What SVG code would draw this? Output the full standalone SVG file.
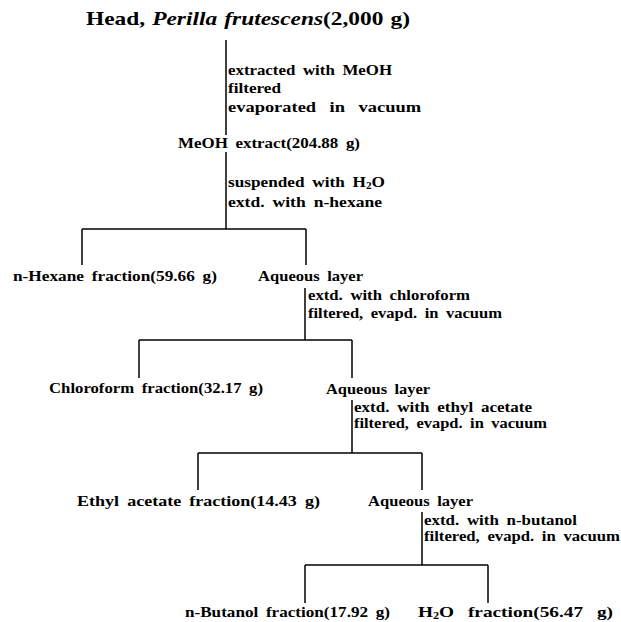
<svg xmlns="http://www.w3.org/2000/svg" width="621" height="622" viewBox="0 0 621 622">
<style>
text { font-family: "Liberation Serif", "Times New Roman", serif; font-weight: bold; fill: #000; word-spacing: 3px; }
.title { font-size: 19px; word-spacing: 1px; }
.node { font-size: 15px; }
.step { font-size: 14.5px; }
.sub { font-size: 9.5px; }
.wide { word-spacing: 7px; }
#connectors line { stroke: #000; stroke-width: 1.5; }
</style>
<rect width="621" height="622" fill="#fff"/>
<g id="connectors">
<line x1="226" y1="40" x2="226" y2="135"/>
<line x1="226" y1="152" x2="226" y2="229"/>
<line x1="82" y1="229" x2="306" y2="229"/>
<line x1="82" y1="229" x2="82" y2="265"/>
<line x1="306" y1="229" x2="306" y2="265"/>
<line x1="305" y1="288" x2="305" y2="340"/>
<line x1="139" y1="340" x2="352" y2="340"/>
<line x1="139" y1="340" x2="139" y2="378"/>
<line x1="352" y1="340" x2="352" y2="378"/>
<line x1="352" y1="400" x2="352" y2="453"/>
<line x1="198" y1="453" x2="422" y2="453"/>
<line x1="198" y1="453" x2="198" y2="490"/>
<line x1="422" y1="453" x2="422" y2="490"/>
<line x1="422" y1="512" x2="422" y2="565"/>
<line x1="305" y1="565" x2="488" y2="565"/>
<line x1="305" y1="565" x2="305" y2="603"/>
<line x1="488" y1="565" x2="488" y2="603"/>
</g>
<g id="steps">
<text class="step" x="228" y="75" textLength="164" lengthAdjust="spacingAndGlyphs">extracted with MeOH</text>
<text class="step" x="228" y="93" textLength="53" lengthAdjust="spacingAndGlyphs">filtered</text>
<text class="step wide" x="228" y="112" textLength="193" lengthAdjust="spacingAndGlyphs">evaporated in vacuum</text>
<text class="step" x="228" y="187" textLength="157" lengthAdjust="spacingAndGlyphs">suspended with  H<tspan class="sub" dy="2">2</tspan><tspan dy="-2">O</tspan></text>
<text class="step" x="228" y="207" textLength="154" lengthAdjust="spacingAndGlyphs">extd. with n-hexane</text>
<text class="step" x="308" y="300" textLength="162" lengthAdjust="spacingAndGlyphs">extd. with chloroform</text>
<text class="step" x="308" y="318" textLength="194" lengthAdjust="spacingAndGlyphs">filtered, evapd. in vacuum</text>
<text class="step" x="354" y="412" textLength="178" lengthAdjust="spacingAndGlyphs">extd. with ethyl acetate</text>
<text class="step" x="354" y="428" textLength="193" lengthAdjust="spacingAndGlyphs">filtered, evapd. in vacuum</text>
<text class="step" x="424" y="525" textLength="153" lengthAdjust="spacingAndGlyphs">extd. with n-butanol</text>
<text class="step" x="424" y="541" textLength="196" lengthAdjust="spacingAndGlyphs">filtered, evapd. in vacuum</text>
</g>
<g id="node-head">
<text class="title" x="86" y="25" textLength="324" lengthAdjust="spacingAndGlyphs">Head, <tspan font-style="italic">Perilla frutescens</tspan>(2,000 g)</text>
</g>
<g id="node-meoh">
<text class="node" x="178" y="148" textLength="182" lengthAdjust="spacingAndGlyphs">MeOH extract(204.88 g)</text>
</g>
<g id="node-hexane">
<text class="node" x="13" y="281" textLength="204" lengthAdjust="spacingAndGlyphs">n-Hexane fraction(59.66 g)</text>
</g>
<g id="node-aq1">
<text class="node" x="258" y="281" textLength="105" lengthAdjust="spacingAndGlyphs">Aqueous layer</text>
</g>
<g id="node-chloroform">
<text class="node" x="49" y="393" textLength="214" lengthAdjust="spacingAndGlyphs">Chloroform fraction(32.17 g)</text>
</g>
<g id="node-aq2">
<text class="node" x="326" y="394" textLength="104" lengthAdjust="spacingAndGlyphs">Aqueous layer</text>
</g>
<g id="node-ethylacetate">
<text class="node" x="77" y="506" textLength="243" lengthAdjust="spacingAndGlyphs">Ethyl acetate fraction(14.43 g)</text>
</g>
<g id="node-aq3">
<text class="node" x="368" y="506" textLength="105" lengthAdjust="spacingAndGlyphs">Aqueous layer</text>
</g>
<g id="node-butanol">
<text class="node" x="185" y="617" textLength="205" lengthAdjust="spacingAndGlyphs">n-Butanol fraction(17.92 g)</text>
</g>
<g id="node-water">
<text class="node wide" x="418" y="617" textLength="195" lengthAdjust="spacingAndGlyphs">H<tspan class="sub" dy="2">2</tspan><tspan dy="-2">O fraction(56.47 g)</tspan></text>
</g>
</svg>
